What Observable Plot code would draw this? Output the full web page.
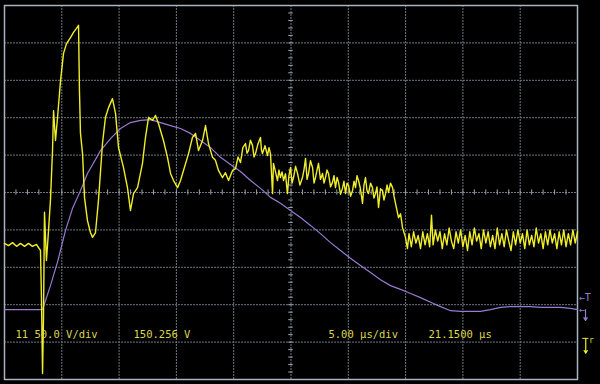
<!DOCTYPE html>
<html>
<head>
<meta charset="utf-8">
<script src="https://cdn.jsdelivr.net/npm/d3@7"></script>
<script src="https://cdn.jsdelivr.net/npm/@observablehq/plot@0.6"></script>
<style>
  html, body { margin: 0; padding: 0; background: #000; }
  #chart { width: 600px; height: 384px; overflow: hidden; }
</style>
</head>
<body>
<div id="chart"></div>
<script>
// Channel 1 (yellow) — [time µs, value in divisions]
const ch1Samples = [
  [0,-1.36],[0.35,-1.42],[0.70,-1.34],[1.05,-1.44],[1.40,-1.36],[1.75,-1.44],[2.09,-1.36],[2.44,-1.44],[2.79,-1.39],[3.14,-1.55],
  [3.23,-2.89],[3.32,-4.84],[3.40,-3.42],[3.49,-0.53],[3.66,-1.82],[3.84,-1.02],[4.01,-0.21],[4.19,1.12],[4.28,2.19],[4.45,1.39],
  [4.62,1.98],[4.89,2.99],[5.15,3.72],[5.41,3.98],[5.76,4.14],[6.02,4.28],[6.28,4.39],[6.46,4.47],[6.54,2.73],[6.63,1.58],
  [6.81,1.04],[6.98,-0.13],[7.24,-0.75],[7.50,-1.07],[7.68,-1.20],[7.94,-1.07],[8.20,-0.21],[8.55,1.31],[8.81,2.01],[9.08,2.27],
  [9.42,2.51],[9.69,2.11],[9.95,1.20],[10.38,0.67],[10.73,0.13],[10.99,-0.48],[11.26,-0.03],[11.61,0.13],[12.04,0.78],[12.30,1.47],
  [12.57,2.01],[12.91,1.93],[13.18,2.06],[13.44,1.84],[13.87,1.39],[14.22,0.94],[14.49,0.51],[14.75,0.32],[15.10,0.13],[15.36,0.32],
  [15.62,0.59],[16.06,1.04],[16.40,1.47],[16.67,1.58],[16.93,1.12],[17.28,1.39],[17.54,1.79],[17.80,1.31],[18.15,0.94],[18.41,0.86],
  [18.67,0.59],[19.02,0.40],[19.28,0.53],[19.55,0.32],[19.90,0.59],
  [20.16,0.64],[20.38,0.95],[20.59,0.80],[20.80,1.20],[21.03,1.31],[21.16,1.05],[21.29,1.12],[21.46,1.40],[21.64,1.26],[21.77,0.95],
  [21.90,1.04],[22.12,1.30],[22.34,1.47],[22.42,1.15],[22.51,1.04],[22.73,1.25],[22.95,0.99],[23.08,1.20],[23.21,1.04],[23.39,-0.03],
  [23.47,0.78],[23.65,0.55],[23.82,0.32],[23.95,0.60],[24.08,0.40],[24.22,0.55],[24.35,0.32],[24.52,0.50],[24.69,-0.03],[24.82,0.45],
  [24.96,0.67],[25.09,0.25],[25.22,0.40],[25.40,0.70],[25.57,0.51],[25.78,0.20],[26.00,0.40],[26.13,0.60],[26.27,0.91],[26.40,0.35],
  [26.53,0.51],[26.70,0.85],[26.88,0.67],[27.01,0.25],[27.14,0.40],[27.27,0.60],[27.40,0.78],[27.57,0.35],[27.75,0.51],[27.88,0.25],
  [28.01,0.40],[28.14,0.60],[28.27,0.51],[28.45,0.15],[28.62,0.27],[28.75,0.45],[28.88,0.13],[29.02,0.40],[29.15,0.27],[29.32,-0.05],
  [29.49,0.11],[29.62,0.30],[29.76,-0.03],[29.89,0.25],[30.02,0.19],[30.20,-0.10],[30.37,0.05],[30.50,0.30],[30.63,0.13],[30.76,0.45],
  [30.89,0.32],[31.06,0.10],[31.24,-0.29],[31.37,0.20],[31.50,0.40],[31.63,0.05],[31.76,-0.03],[31.94,0.25],[32.11,0.13],[32.24,-0.15],
  [32.37,-0.03],[32.50,0.15],[32.64,-0.40],[32.81,0.10],[32.98,0.05],[33.11,-0.20],[33.25,-0.03],[33.38,0.20],[33.51,0.00],[33.68,0.25],
  [33.86,0.13],[33.99,-0.10],[34.12,-0.29],[34.38,-0.67],[34.56,-0.57],[34.73,-0.94],[34.99,-1.20],[35.16,-1.50],
  [35.3,-1.10],[35.5,-1.45],[35.7,-1.05],[35.9,-1.35],[36.1,-1.15],[36.3,-1.50],[36.5,-1.05],[36.7,-1.40],[36.9,-1.10],[37.1,-1.45],
  [37.26,-0.61],[37.4,-1.40],[37.6,-1.00],[37.8,-1.30],[38.0,-1.05],[38.2,-1.50],[38.4,-1.10],[38.6,-1.40],[38.8,-0.95],[39.0,-1.30],
  [39.2,-1.50],[39.4,-1.05],[39.6,-1.35],[39.8,-1.00],[40.0,-1.45],[40.2,-1.15],[40.4,-1.55],[40.6,-1.05],[40.8,-1.40],[41.0,-0.95],
  [41.2,-1.30],[41.4,-1.10],[41.6,-1.50],[41.8,-1.00],[42.0,-1.35],[42.2,-1.05],[42.4,-1.45],[42.6,-1.15],[42.8,-1.50],[43.0,-0.95],
  [43.2,-1.40],[43.4,-1.10],[43.6,-1.45],[43.8,-1.00],[44.0,-1.30],[44.2,-1.55],[44.4,-1.05],[44.6,-1.40],[44.8,-1.00],[45.0,-1.35],
  [45.2,-1.10],[45.4,-1.50],[45.6,-1.00],[45.8,-1.40],[46.0,-1.15],[46.2,-1.45],[46.4,-0.95],[46.6,-1.35],[46.8,-1.10],[47.0,-1.50],
  [47.2,-1.05],[47.4,-1.40],[47.6,-1.00],[47.8,-1.35],[48.0,-1.10],[48.2,-1.50],[48.4,-1.05],[48.6,-1.40],[48.8,-1.00],[49.0,-1.45],
  [49.2,-1.10],[49.4,-1.40],[49.6,-1.00],[49.8,-1.35],[50.0,-1.05]
];

// Reference trace (purple) — [time µs, value in divisions]
const ch2Samples = [
  [0,-3.13],[3.32,-3.13],[4.01,-2.49],[4.62,-1.87],[5.32,-1.02],[5.93,-0.43],[6.63,0.05],[7.24,0.51],[8.38,1.12],[9.25,1.44],
  [10.12,1.71],[10.99,1.87],[11.87,1.93],[12.74,1.95],[13.61,1.87],[14.49,1.79],[15.36,1.71],[16.23,1.58],[17.10,1.39],[17.98,1.20],
  [18.85,0.94],[19.72,0.75],[20.59,0.56],[21.47,0.32],[22.34,0.11],[23.21,-0.13],[24.08,-0.29],[24.96,-0.48],[25.83,-0.67],[26.70,-0.88],
  [27.57,-1.10],[28.45,-1.34],[29.32,-1.55],[30.19,-1.76],[31.06,-1.95],[31.94,-2.14],[32.81,-2.33],[33.68,-2.49],[34.56,-2.59],[35.43,-2.70],
  [36.30,-2.81],[37.43,-2.97],[38.92,-3.16],[39.79,-3.18],[40.66,-3.18],[41.54,-3.18],[42.41,-3.13],[43.28,-3.07],[44.15,-3.05],[45.03,-3.05],
  [45.90,-3.05],[46.77,-3.07],[47.64,-3.07],[48.52,-3.07],[49.39,-3.10],[50.0,-3.13]
];

// Readout texts
const readouts = ["11 50.0 V/div", "150.256 V", "5.00 \u00b5s/div", "21.1500 \u00b5s"];

// Grid divisions
const xDivs = d3.range(5, 50, 5);
const yDivs = d3.range(-4, 5, 1);
const xMinor = d3.range(0, 50.001, 1);
const yMinor = d3.range(-5, 5.001, 0.2);

const ch1 = ch1Samples.map(([t, v]) => ({t, v}));
const ch2 = ch2Samples.map(([t, v]) => ({t, v}));

const gridColor = "#6c7884";
const textColor = "#dcd84a";
const purple = "#9a7ad2";
const yellow = "#f0ee2a";
const mono = "DejaVu Sans Mono, monospace";

const chart = Plot.plot({
  width: 600,
  height: 384,
  marginLeft: 4,
  marginRight: 23,
  marginTop: 5,
  marginBottom: 5,
  x: {domain: [0, 50], axis: null},
  y: {domain: [-5, 5], axis: null},
  style: {background: "#000", overflow: "visible"},
  marks: [
    Plot.ruleX(xDivs, {stroke: gridColor, strokeWidth: 1, strokeDasharray: "2,1"}),
    Plot.ruleY(yDivs, {stroke: gridColor, strokeWidth: 1, strokeDasharray: "2,1"}),
    Plot.ruleX(xMinor, {x: d => d, y1: -0.07, y2: 0.07, stroke: "#9aa4ae", strokeWidth: 1}),
    Plot.ruleY(yMinor, {y: d => d, x1: 24.8, x2: 25.2, stroke: "#9aa4ae", strokeWidth: 1}),
    Plot.frame({stroke: "#a8b4c0", strokeWidth: 1.5}),
    Plot.line(ch2, {x: "t", y: "v", stroke: purple, strokeWidth: 1.2}),
    Plot.line(ch1, {x: "t", y: "v", stroke: yellow, strokeWidth: 1.4, strokeLinejoin: "round"}),
    Plot.text(readouts, {
      x: [0.96, 11.26, 28.27, 37.0],
      y: -3.8,
      text: d => d,
      textAnchor: "start",
      fill: textColor,
      fontSize: 10.5,
      fontFamily: mono
    }),
    // right-hand markers
    Plot.text(["\u2190T"], {x: 50.1, y: -2.81, text: d => d, textAnchor: "start", fill: purple, fontSize: 10, fontFamily: mono}),
    Plot.text(["\u2190"], {x: 50.1, y: -3.13, text: d => d, textAnchor: "start", fill: purple, fontSize: 10, fontFamily: mono}),
    Plot.arrow([0], {x1: 50.7, y1: -3.13, x2: 50.7, y2: -3.42, stroke: purple, strokeWidth: 1.2, headLength: 4}),
    Plot.ruleY([0], {y: -3.9, x1: 50.45, x2: 51.0, stroke: textColor, strokeWidth: 1}),
    Plot.arrow([0], {x1: 50.72, y1: -3.9, x2: 50.72, y2: -4.3, stroke: yellow, strokeWidth: 1.2, headLength: 4}),
    Plot.text(["r"], {x: 51.0, y: -3.95, text: d => d, textAnchor: "start", fill: textColor, fontSize: 8, fontFamily: mono})
  ]
});
document.getElementById("chart").appendChild(chart);
</script>
</body>
</html>
